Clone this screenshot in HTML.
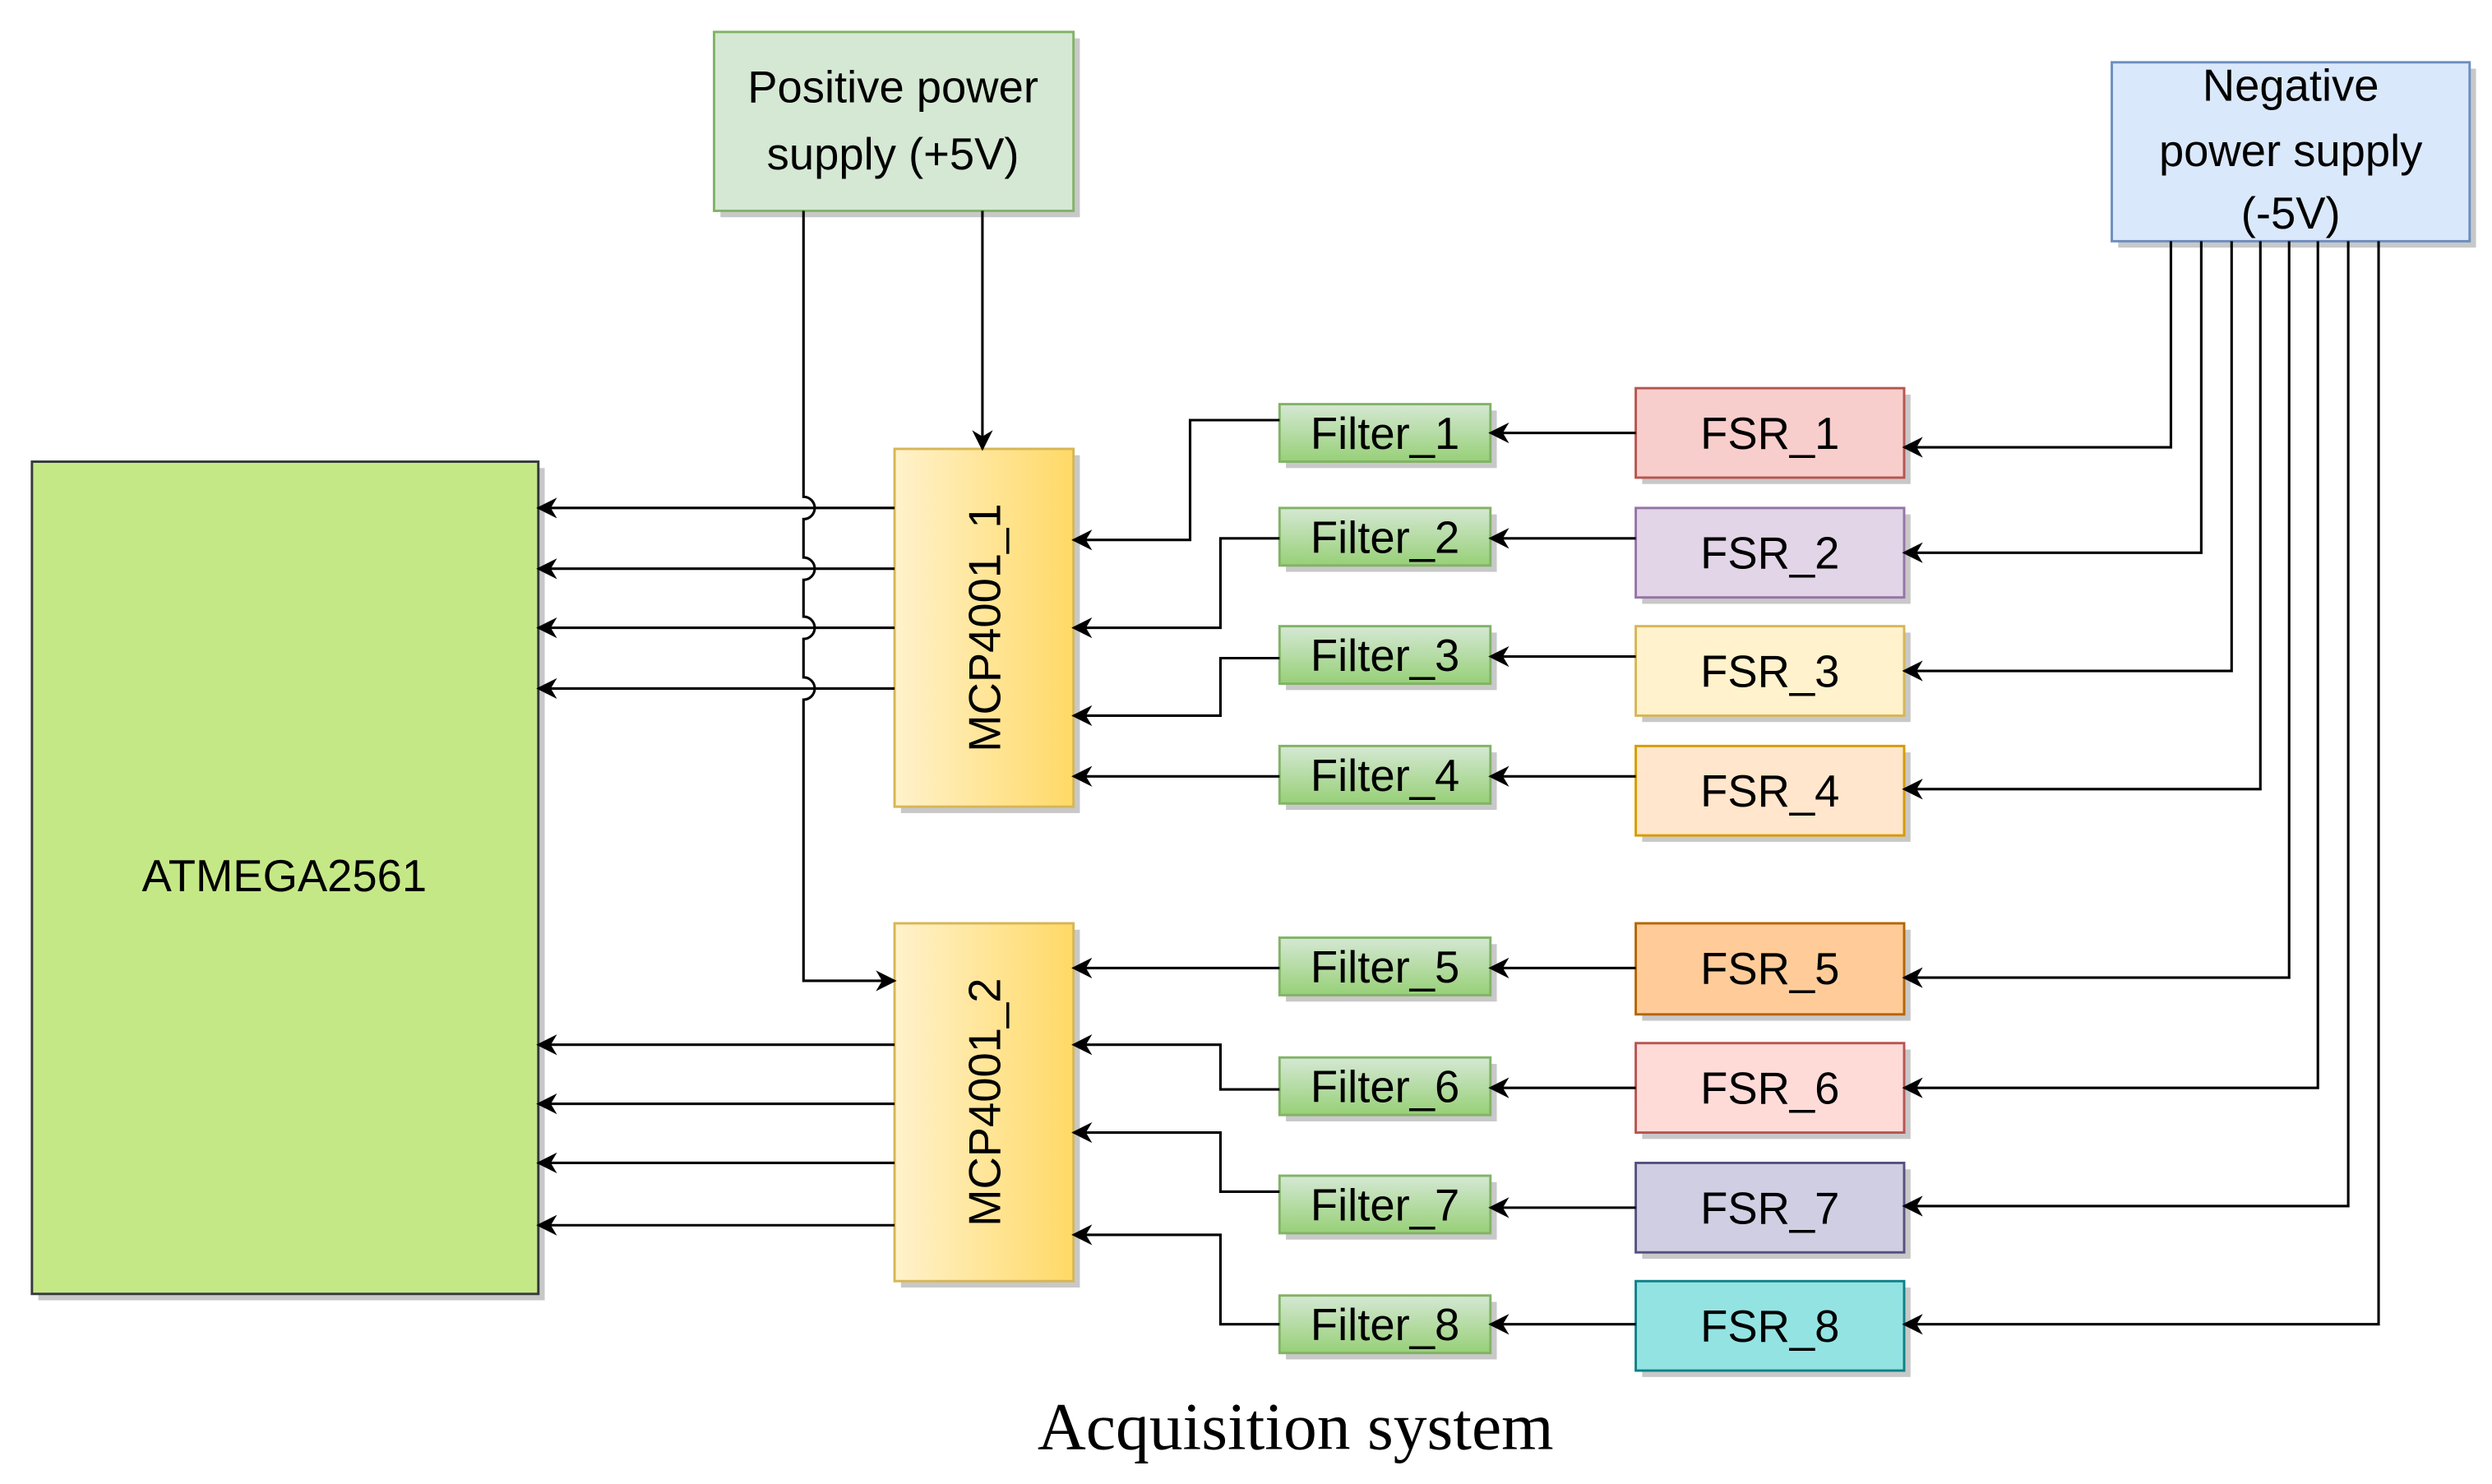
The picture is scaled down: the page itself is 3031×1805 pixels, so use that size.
<!DOCTYPE html>
<html><head><meta charset="utf-8"><style>
html,body{margin:0;padding:0;background:#fff;}
svg{display:block;}
text{font-family:"Liberation Sans",Arial,sans-serif;}
</style></head><body>
<svg width="3031" height="1805" viewBox="0 0 1560 929" xmlns="http://www.w3.org/2000/svg">
<defs>
<marker id="a" viewBox="0 0 10 10" refX="9" refY="5" markerWidth="13" markerHeight="13" markerUnits="userSpaceOnUse" orient="auto">
<path d="M0,0 L10,5 L0,10 L3,5 Z" fill="#000"/></marker>
<linearGradient id="mcp" x1="0" x2="1" y1="0" y2="0"><stop offset="0" stop-color="#fff2cc"/><stop offset="1" stop-color="#ffd966"/></linearGradient>
<linearGradient id="flt" x1="0" x2="0" y1="0" y2="1"><stop offset="0" stop-color="#d5e8d4"/><stop offset="1" stop-color="#97d077"/></linearGradient>
</defs>
<g fill="#c8c8c8">
<rect x="451" y="24" width="225" height="112"/>
<rect x="1326" y="43" width="224" height="112"/>
<rect x="24" y="293" width="317" height="521"/>
<rect x="564" y="285" width="112" height="224"/>
<rect x="564" y="582" width="112" height="224"/>
</g>
<rect x="447" y="20" width="225" height="112" fill="#d5e8d4" stroke="#82b366" stroke-width="1.5"/>
<text x="559" y="64" font-size="28" text-anchor="middle">Positive power</text>
<text x="559" y="106" font-size="28" text-anchor="middle">supply (+5V)</text>
<rect x="1322" y="39" width="224" height="112" fill="#dae8fc" stroke="#6c8ebf" stroke-width="1.5"/>
<text x="1434" y="63" font-size="28" text-anchor="middle">Negative</text>
<text x="1434" y="104" font-size="28" text-anchor="middle">power supply</text>
<text x="1434" y="143" font-size="28" text-anchor="middle">(-5V)</text>
<rect x="20" y="289" width="317" height="521" fill="#c5e887" stroke="#36393d" stroke-width="1.5"/>
<text x="178" y="558" font-size="28" text-anchor="middle">ATMEGA2561</text>
<rect x="560" y="281" width="112" height="224" fill="url(#mcp)" stroke="#d6b656" stroke-width="1.5"/>
<text transform="translate(626,393) rotate(-90)" font-size="28" text-anchor="middle">MCP4001_1</text>
<rect x="560" y="578" width="112" height="224" fill="url(#mcp)" stroke="#d6b656" stroke-width="1.5"/>
<text transform="translate(626,690) rotate(-90)" font-size="28" text-anchor="middle">MCP4001_2</text>
<g stroke-width="1.5">
<g fill="#c8c8c8" stroke="none">
<rect x="805" y="257" width="132" height="36"/><rect x="805" y="322" width="132" height="36"/><rect x="805" y="396" width="132" height="36"/><rect x="805" y="471" width="132" height="36"/>
<rect x="805" y="591" width="132" height="36"/><rect x="805" y="666" width="132" height="36"/><rect x="805" y="740" width="132" height="36"/><rect x="805" y="815" width="132" height="36"/>
<rect x="1028" y="247" width="168" height="56"/><rect x="1028" y="322" width="168" height="56"/><rect x="1028" y="396" width="168" height="56"/><rect x="1028" y="471" width="168" height="56"/>
<rect x="1028" y="582" width="168" height="57"/><rect x="1028" y="657" width="168" height="56"/><rect x="1028" y="732" width="168" height="56"/><rect x="1028" y="806" width="168" height="56"/>
</g>
<g fill="url(#flt)" stroke="#82b366">
<rect x="801" y="253" width="132" height="36"/><rect x="801" y="318" width="132" height="36"/><rect x="801" y="392" width="132" height="36"/><rect x="801" y="467" width="132" height="36"/>
<rect x="801" y="587" width="132" height="36"/><rect x="801" y="662" width="132" height="36"/><rect x="801" y="736" width="132" height="36"/><rect x="801" y="811" width="132" height="36"/>
</g>
<rect x="1024" y="243" width="168" height="56" fill="#f8cecc" stroke="#b85450"/>
<rect x="1024" y="318" width="168" height="56" fill="#e1d5e7" stroke="#9673a6"/>
<rect x="1024" y="392" width="168" height="56" fill="#fff2cc" stroke="#d6b656"/>
<rect x="1024" y="467" width="168" height="56" fill="#ffe6cc" stroke="#d79b00"/>
<rect x="1024" y="578" width="168" height="57" fill="#ffcc99" stroke="#b46504"/>
<rect x="1024" y="653" width="168" height="56" fill="#ffdbd8" stroke="#b85450"/>
<rect x="1024" y="728" width="168" height="56" fill="#d0cee2" stroke="#56517e"/>
<rect x="1024" y="802" width="168" height="56" fill="#94e3e3" stroke="#0e8088"/>
</g>
<g font-size="28" text-anchor="middle">
<text x="867" y="281">Filter_1</text><text x="867" y="346">Filter_2</text><text x="867" y="420">Filter_3</text><text x="867" y="495">Filter_4</text>
<text x="867" y="615">Filter_5</text><text x="867" y="690">Filter_6</text><text x="867" y="764">Filter_7</text><text x="867" y="839">Filter_8</text>
<text x="1108" y="281">FSR_1</text><text x="1108" y="356">FSR_2</text><text x="1108" y="430">FSR_3</text><text x="1108" y="505">FSR_4</text>
<text x="1108" y="616">FSR_5</text><text x="1108" y="691">FSR_6</text><text x="1108" y="766">FSR_7</text><text x="1108" y="840">FSR_8</text>
</g>
<g fill="none" stroke="#000" stroke-width="1.6" marker-end="url(#a)">
<path d="M615,132 V281"/>
<path d="M503,132 V311 a7,7 0 0 1 0,14 V349 a7,7 0 0 1 0,14 V386 a7,7 0 0 1 0,14 V424 a7,7 0 0 1 0,14 V614 H560"/>
<path d="M560,318 H337"/><path d="M560,356 H337"/><path d="M560,393 H337"/><path d="M560,431 H337"/>
<path d="M560,654 H337"/><path d="M560,691 H337"/><path d="M560,728 H337"/><path d="M560,767 H337"/>
<path d="M801,263 H745 V338 H672"/><path d="M801,337 H764 V393 H672"/><path d="M801,412 H764 V448 H672"/><path d="M801,486 H672"/>
<path d="M801,606 H672"/><path d="M801,682 H764 V654 H672"/><path d="M801,746 H764 V709 H672"/><path d="M801,829 H764 V773 H672"/>
<path d="M1024,271 H933"/><path d="M1024,337 H933"/><path d="M1024,411 H933"/><path d="M1024,486 H933"/>
<path d="M1024,606 H933"/><path d="M1024,681 H933"/><path d="M1024,756 H933"/><path d="M1024,829 H933"/>
<path d="M1359,151 V280 H1192"/><path d="M1378,151 V346 H1192"/><path d="M1397,151 V420 H1192"/><path d="M1415,151 V494 H1192"/>
<path d="M1433,151 V612 H1192"/><path d="M1451,151 V681 H1192"/><path d="M1470,151 V755 H1192"/><path d="M1489,151 V829 H1192"/>
</g>
<text x="811" y="907" font-size="42" text-anchor="middle" style="font-family:'Liberation Serif',serif">Acquisition system</text>
</svg>
</body></html>
